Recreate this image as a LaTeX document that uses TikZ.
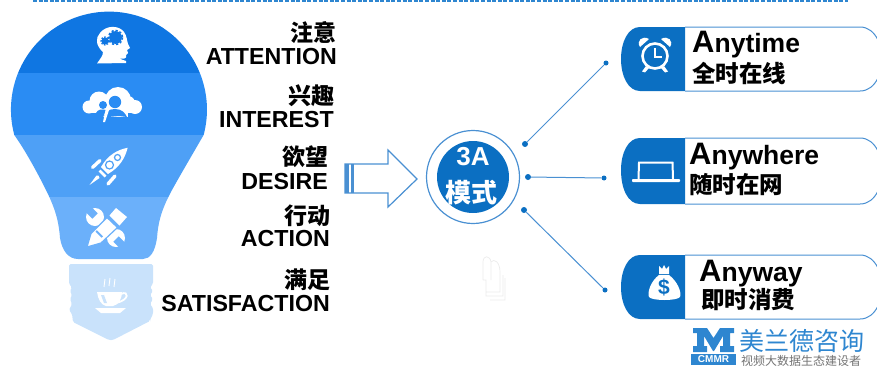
\documentclass[tikz,border=0pt]{standalone}
\usepackage{fontspec}
\setmainfont{Liberation Sans}
\newfontfamily\cjk{Noto Sans CJK SC}
\definecolor{bandA}{HTML}{0F76E2}
\definecolor{bandB}{HTML}{2A8CF3}
\definecolor{bandC}{HTML}{4EA0F6}
\definecolor{bandD}{HTML}{6BB0FA}
\definecolor{baseC}{HTML}{C9E2FB}
\definecolor{mainB}{HTML}{0B6FC2}
\definecolor{lineB}{HTML}{4A90D2}
\definecolor{dashB}{HTML}{2E86D0}
\tikzset{
  x=1pt,y=-1pt,
  lab/.style={anchor=east,inner sep=0pt,font=\fontsize{23.2}{23}\selectfont\bfseries,text=black},
  labc/.style={anchor=east,inner sep=0pt,font=\fontsize{23}{23}\selectfont\cjk\bfseries,text=black},
  cardhead/.style={anchor=base west,inner sep=0pt,font=\fontsize{26.5}{26}\selectfont\bfseries,text=black},
  cardsub/.style={anchor=west,inner sep=0pt,font=\fontsize{23.5}{23}\selectfont\cjk\bfseries,text=black},
  link/.style={draw=lineB,line width=1pt},
  pin/.style={circle,fill=mainB,inner sep=0pt,minimum size=6pt},
  pale/.style={draw=black!8,line width=.7pt},
}
\newcommand{\cardshape}[2]{%
  \fill[mainB] (685,#1) -- (640,#1) .. controls (628,#1) and (621,#1+15) .. (621,#1+32) .. controls (621,#2-15) and (628,#2) .. (640,#2) -- (685,#2) -- cycle;
  \draw[lineB,line width=1pt] (685,#1) -- (860,#1) .. controls (868,#1) and (874,#1+5) .. (878,#1+13);
  \draw[lineB,line width=1pt] (685,#2) -- (860,#2) .. controls (868,#2) and (874,#2-5) .. (878,#2-13);
}
\newcommand{\bigA}{{\fontsize{31}{31}\selectfont A}}
\begin{document}
\begin{tikzpicture}
\useasboundingbox (0,0) rectangle (877,367);
% top dashed rule
\draw[dashB,line width=1.3pt,dash pattern=on 4pt off 1.6pt] (33,1) -- (848,1);
% bulb
\begin{scope}
\clip (14.3,135) arc[start angle=165,end angle=375,radius=98]
  .. controls (195,150) and (182,172) .. (172,190)
  .. controls (160,212) and (158,225) .. (157,238)
  .. controls (155,252) and (150,259) .. (143,259)
  -- (78,259)
  .. controls (68,259) and (62,250) .. (60,238)
  .. controls (59,225) and (57,212) .. (46,190)
  .. controls (37,172) and (25,150) .. (14.3,135) -- cycle;
\fill[bandA] (0,0) rectangle (220,73);
\fill[bandB] (0,73) rectangle (220,135);
\fill[bandC] (0,135) rectangle (220,197);
\fill[bandD] (0,197) rectangle (220,262);
\end{scope}
% screw base
\fill[baseC,rounded corners=1.5pt] (69,264) -- (153,264) -- (153,284) -- (150,287) -- (153,291) -- (150,295) -- (153,299) -- (150,304) -- (153,308) -- (153,314) -- (150,320) -- (150,321) -- (113,340) -- (109,340) -- (73,322) -- (72,314) -- (69,310) -- (72,304) -- (70,299) -- (72,295) -- (70,291) -- (72,287) -- (69,284) -- cycle;
% head
\fill[white] (97,63.5) .. controls (100,59) and (103,56) .. (103,52)
  .. controls (96,46) and (95,38) .. (100,33)
  .. controls (106,25) and (119,25) .. (124,32)
  .. controls (127,36) and (127,41) .. (128,44)
  -- (130,48) -- (127,50) -- (128,53) -- (126,55) .. controls (127,59) and (124,59) .. (119,58.5)
  -- (126,61) -- (126,63) -- cycle;
\fill[bandA] (105,41) circle[radius=3.6];
\draw[bandA,line width=1.2pt,dash pattern=on 1.6pt off 1.3pt] (105,41) circle[radius=4];
\fill[bandA] (115.5,37.5) circle[radius=6.4];
\draw[bandA,line width=1.6pt,dash pattern=on 2.2pt off 1.9pt] (115.5,37.5) circle[radius=7];
% cloud with people
\fill[white] (89,107) circle[radius=6.5] (99,101) circle[radius=9.5] (118,100) circle[radius=13] (128,103) circle[radius=7] (135,107) circle[radius=7];
\fill[white] (90,104) rectangle (134,113);
\fill[white] (100,108) rectangle (128,117);
\fill[bandB] (115,102) circle[radius=6.2];
\fill[bandB] (103,122) .. controls (104,112) and (108,109) .. (115,109) .. controls (122,109) and (125,113) .. (127,117) -- (119,116) -- (108,117) -- cycle;
\fill[bandB] (103,105) circle[radius=4];
\fill[bandB] (96,113) .. controls (98,109) and (102,109) .. (106,110) -- (102,120) -- cycle;
\fill[white] (106,108) -- (110,107) -- (105,122) -- (103,122) -- cycle;
% rocket
\fill[white] (127.7,147.7) .. controls (117,150) and (108,155) .. (101,167) -- (108,174) .. controls (120,167) and (125,158) .. (127.7,147.7) -- cycle;
\draw[bandC,line width=1.2pt,fill=white] (109.5,165) circle[radius=4];
\draw[bandC,line width=1.2pt,fill=white] (117.5,157.5) circle[radius=3];
\draw[white,line width=2.6pt] (99.5,170.5) -- (105.5,176.5);
\draw[white,line width=3.4pt,line cap=round] (92.5,167.5) -- (100,160.5);
\draw[white,line width=3.4pt,line cap=round] (108,184) -- (115,176);
\fill[white] (89.5,185) -- (96.5,175.5) .. controls (98,174.5) and (100,176.5) .. (99.5,178) -- cycle;
% wrench
\draw[white,line width=5.5pt] (95,217) -- (116,238);
\fill[white] (95,217) circle[radius=9] (116,238) circle[radius=9];
\draw[bandD,line width=7.5pt] (95,216) -- (85,206);
\draw[bandD,line width=7.5pt] (116,239) -- (127,250);
% pencil
\draw[bandD,line width=1.2pt,fill=white,line join=round] (87,247) -- (91,233.5) -- (107,217.5) -- (117.5,227.5) -- (101,243) -- cycle;
\fill[white] (109.5,215.5) -- (116,208) -- (127,217) -- (119.5,225.5) -- cycle;
\fill[bandD] (95.5,231.5) -- (96.8,230.2) -- (103,236.4) -- (101.7,237.7) -- cycle;
% cup
\fill[white] (97,292) -- (122,292) .. controls (122,298) and (119,305) .. (113,306) -- (106,306) .. controls (101,305) and (98,299) .. (97,292) -- cycle;
\draw[white,line width=1.8pt] (121,294) .. controls (129,290) and (130,300) .. (116,303);
\fill[white] (95,308) -- (126,308) -- (120,313) -- (101,313) -- cycle;
\fill[baseC] (101,295) -- (104,295) -- (107,303) -- (104,303) -- cycle;
\draw[white,line width=.9pt] (105,279) .. controls (103,282) and (106,284) .. (104,287) (110,278) .. controls (108,281) and (111,283) .. (109,286) (115,279) .. controls (113,282) and (116,284) .. (114,287);
% left labels
\node[labc] (t1a) at (337,33) {注意};
\node[lab] (t1b) at (337,57) {ATTENTION};
\node[labc] (t2a) at (335,96) {兴趣};
\node[lab] (t2b) at (334,120) {INTEREST};
\node[labc] (t3a) at (329,157) {欲望};
\node[lab] (t3b) at (328,182) {DESIRE};
\node[labc] (t4a) at (331,216) {行动};
\node[lab] (t4b) at (330,239) {ACTION};
\node[labc] (t5a) at (331,280) {满足};
\node[lab] (t5b) at (330,304) {SATISFACTION};
% hollow arrow
\draw[lineB,line width=1.2pt,line join=miter] (345,164) -- (388,164) -- (388,150) -- (417,179) -- (388,207) -- (388,193) -- (345,193) -- cycle;
\fill[lineB] (345,164) rectangle (349,193);
\fill[lineB] (351,164) rectangle (354,193);
% hub
\node[circle,draw=lineB,line width=1.2pt,minimum size=93pt,inner sep=0pt] (hubring) at (473,177) {};
\node[circle,fill=mainB,minimum size=72pt,inner sep=0pt] (hub) at (473,177) {};
\node[inner sep=0pt,text=white,font=\fontsize{26}{26}\selectfont\bfseries] (hubA) at (473,157) {3A};
\node[inner sep=0pt,text=white,font=\fontsize{26}{26}\selectfont\cjk\bfseries] (hubB) at (471,193) {模式};
% connectors
\node[pin] (p1) at (525,144) {};
\node[pin] (p2) at (528,177) {};
\node[pin] (p3) at (524,210) {};
\node[pin,minimum size=5pt] (q1) at (606,63) {};
\node[pin,minimum size=5pt] (q2) at (604,178) {};
\node[pin,minimum size=5pt] (q3) at (605,290) {};
\draw[link] (p1) -- (q1);
\draw[link] (p2) -- (q2);
\draw[link] (p3) -- (q3);
% faint hand
\draw[pale] (483,280) -- (483,262) .. controls (483,255) and (490,255) .. (491,262) -- (491,280) (491,262) .. controls (494,258) and (500,262) .. (500,272) -- (500,292) -- (486,292) -- (486,280) -- (483,280) (503,275) -- (503,296) -- (486,296) -- (486,292) (505,278) -- (505,300) -- (490,300);
% cards
\cardshape{27}{91}
\cardshape{138}{204}
\cardshape{255}{319}
% alarm clock
\draw[white,line width=2.6pt] (655,56) circle[radius=12.5];
\draw[white,line width=1.8pt] (655,48) -- (655,57) -- (662,57);
\fill[white] (640,47) .. controls (636,41) and (642,35) .. (649,39) -- cycle;
\fill[white] (670,47) .. controls (674,41) and (668,35) .. (661,39) -- cycle;
\fill[white] (646,66) -- (649,68) -- (645,72.5) -- (642,71.5) -- cycle;
\fill[white] (664,66) -- (661,68) -- (665,72.5) -- (668,71.5) -- cycle;
% laptop
\draw[white,line width=2pt] (638.5,179) -- (639,162.5) -- (672.5,162.5) -- (673,179);
\fill[white,rounded corners=.8pt] (632,179) -- (680,179) -- (680,182) -- (632,182) -- cycle;
% money bag
\fill[white] (659,266) -- (662,269) -- (664,265) -- (666,269) -- (669,266) -- (669,274) -- (659,274) -- cycle;
\fill[white] (659,275) .. controls (651,281) and (647,292) .. (649,297) .. controls (652,301) and (677,301) .. (680,297) .. controls (682,292) and (677,281) .. (669,275) -- cycle;
\node[inner sep=0pt,text=mainB,font=\fontsize{21}{21}\selectfont\bfseries] (dollar) at (664,287.5) {\$};
% card text
\node[cardhead] (c1) at (692,52) {\bigA nytime};
\node[cardsub] (c1s) at (692,73) {全时在线};
\node[cardhead] (c2) at (689,164) {\bigA nywhere};
\node[cardsub] (c2s) at (689,185) {随时在网};
\node[cardhead] (c3) at (699,281) {\bigA nyway};
\node[cardsub] (c3s) at (701,300) {即时消费};
% logo
\fill[dashB] (693,328) -- (707,328) -- (713.5,338) -- (720,328) -- (734,328) -- (734,333) -- (730,333) -- (730,346) -- (734,346) -- (734,352) -- (720,352) -- (720,346) -- (723,346) -- (723,336) -- (714,351) -- (713,351) -- (704,336) -- (704,346) -- (707,346) -- (707,352) -- (693,352) -- (693,346) -- (697,346) -- (697,333) -- (693,333) -- cycle;
\node[inner sep=0pt,fill=dashB,text=white,minimum width=45pt,minimum height=11pt,font=\fontsize{10}{10}\selectfont\bfseries] (cmmr) at (713.5,359.5) {CMMR};
\node[inner sep=0pt,anchor=west,text=dashB,font=\fontsize{25}{25}\selectfont\cjk] (mlt) at (739,341) {美兰德咨询};
\node[inner sep=0pt,anchor=west,text=black!55,font=\fontsize{12}{12}\selectfont\cjk] (mls) at (741,361) {视频大数据生态建设者};
\end{tikzpicture}
\end{document}
